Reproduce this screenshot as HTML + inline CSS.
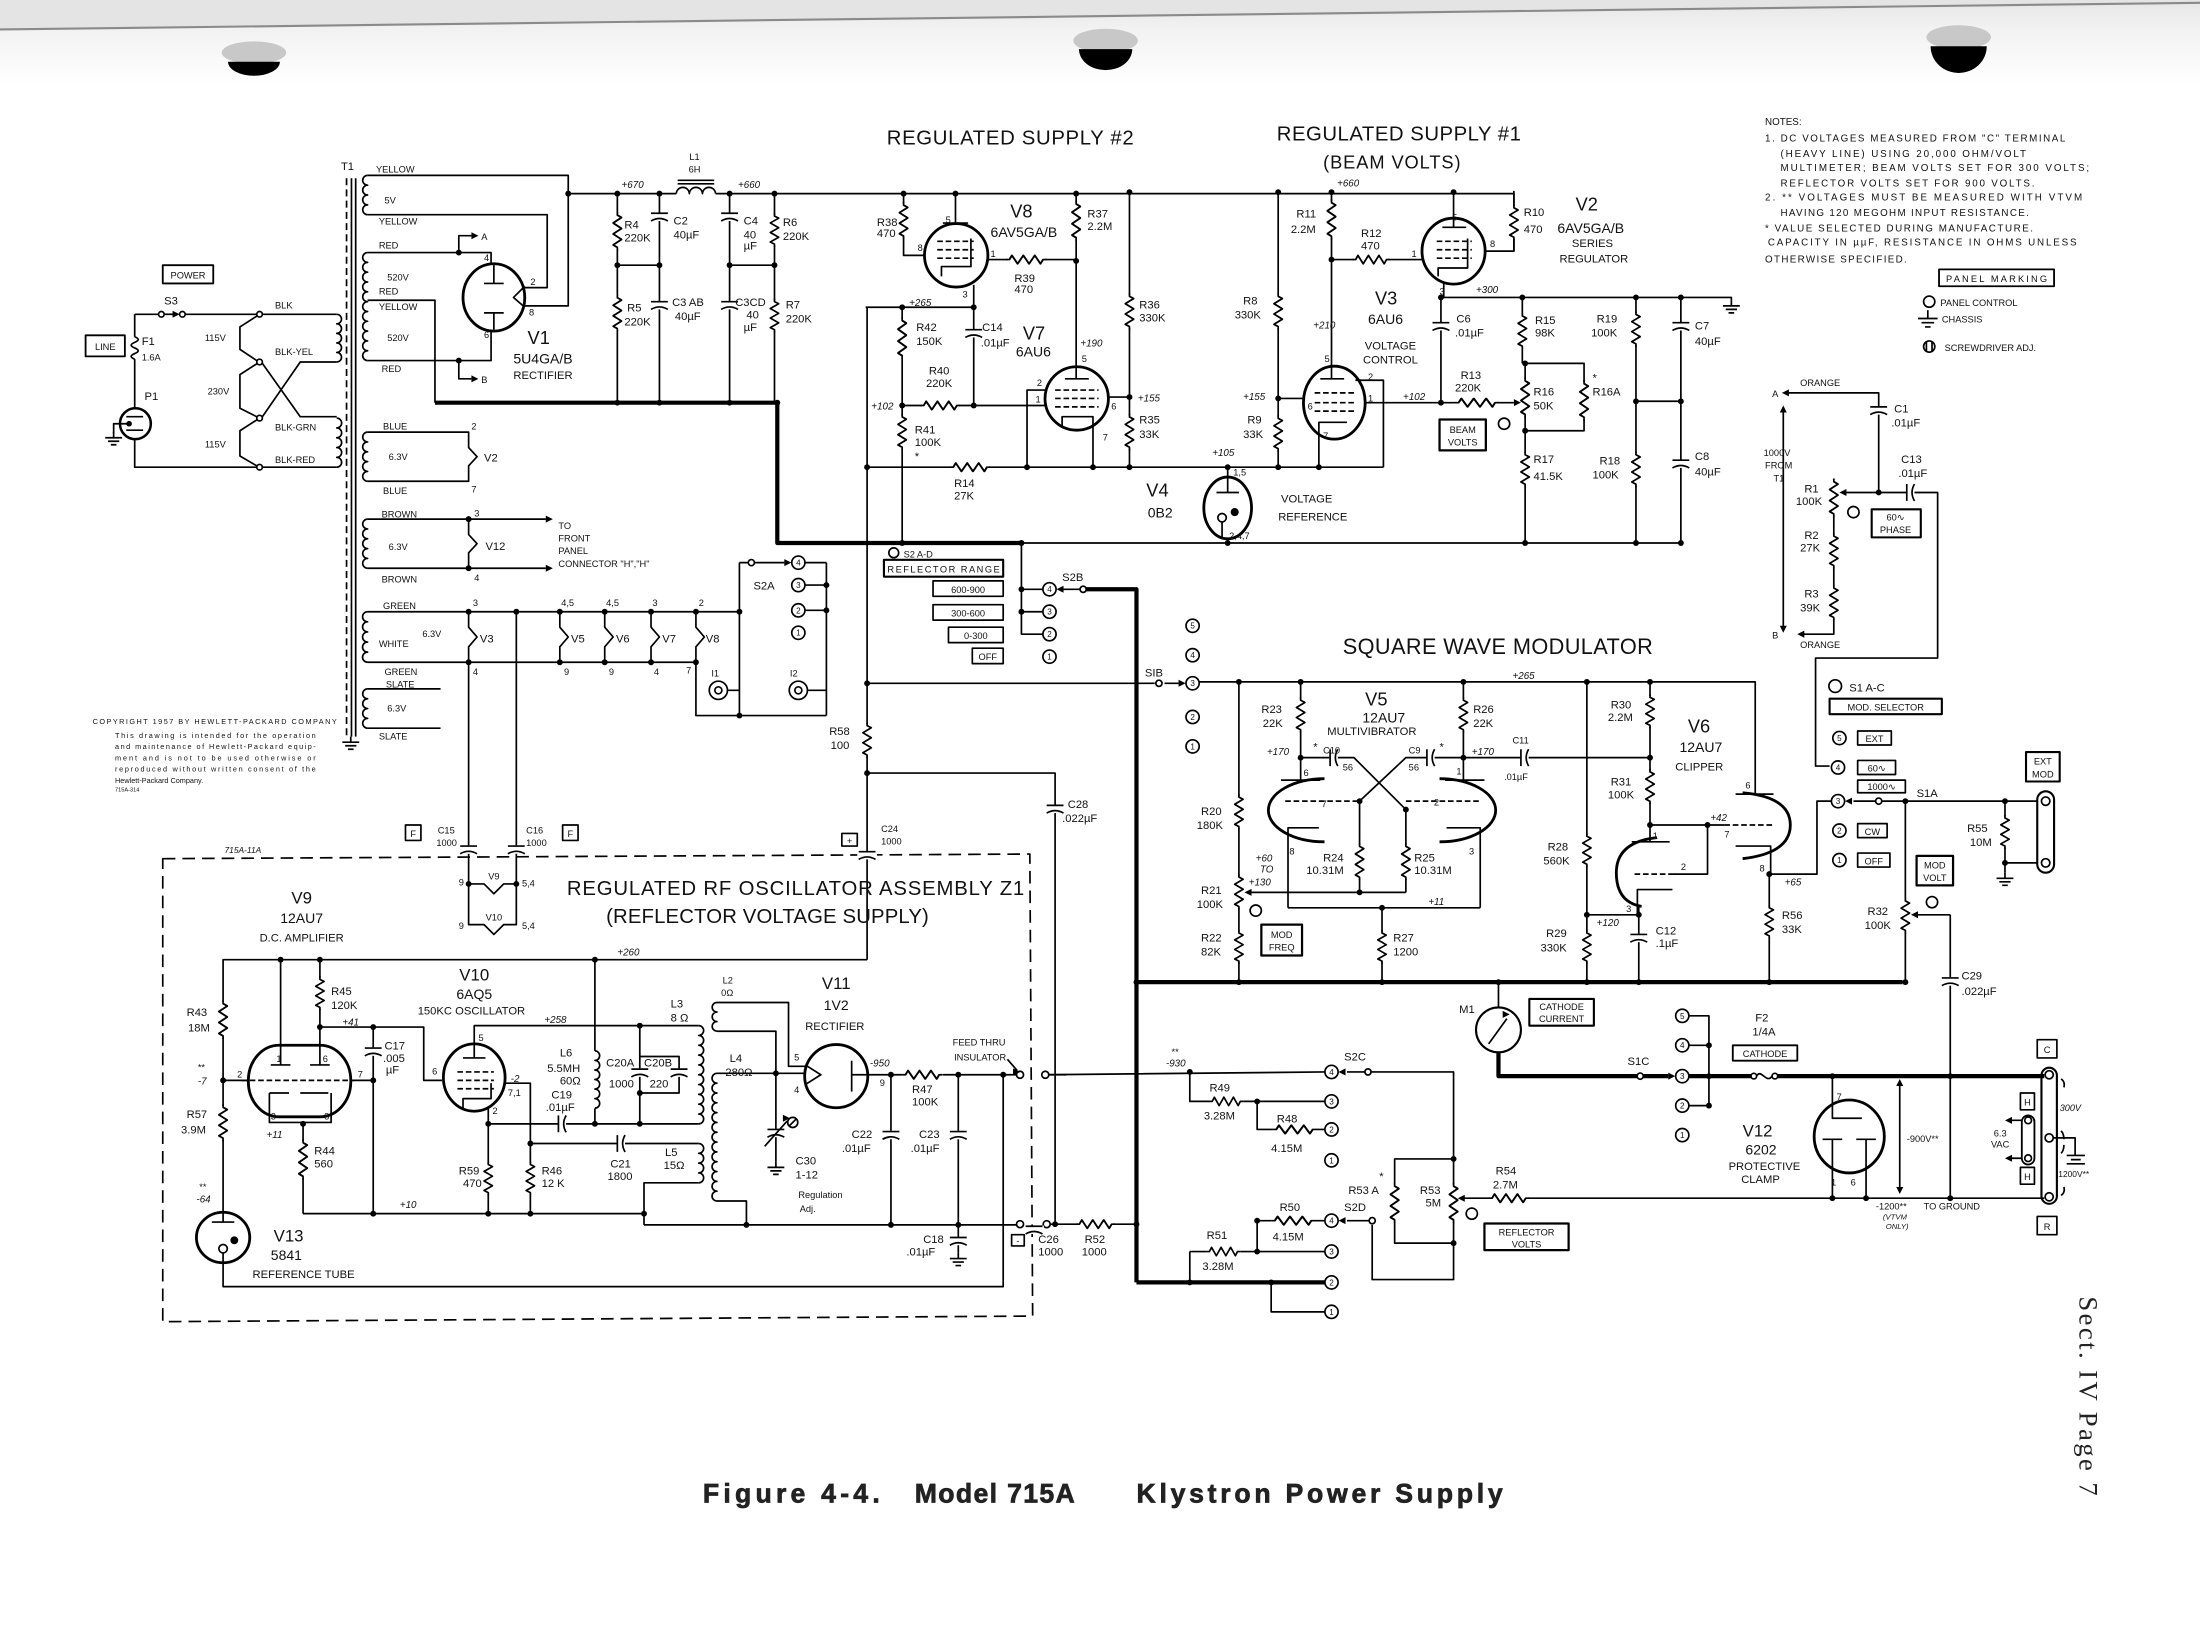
<!DOCTYPE html>
<html><head><meta charset="utf-8">
<style>
html,body{margin:0;padding:0;background:#fff;}
svg{display:block}
text{font-family:"Liberation Sans",sans-serif;fill:#111;stroke:none;font-size:8px}
.s{font-size:6.6px}
.xs{font-size:5.2px}
.i{font-style:italic;font-size:7px}
.v{font-size:13px}
.ty{font-size:10px}
.T{font-size:14.5px}
.m{text-anchor:middle}
.n{fill:#000;stroke:none}
.h{stroke-width:3}
.t2{stroke-width:2}
.d{stroke-dasharray:4 2}
.k{font-size:5.8px;text-anchor:middle}
.cap{font-family:"Liberation Sans",sans-serif;font-weight:bold;font-size:19px;fill:#222;stroke:#222;stroke-width:0.5}
</style></head><body>
<svg width="2200" height="1650" viewBox="0 0 1568 1176" xmlns="http://www.w3.org/2000/svg">
<defs>
<linearGradient id="gb" x1="0" y1="0" x2="0" y2="1"><stop offset="0" stop-color="#e6e6e6"/><stop offset="0.35" stop-color="#f2f2f2"/><stop offset="1" stop-color="#fff"/></linearGradient>
<g id="rv"><rect x="-4.5" y="1" width="9" height="22" fill="#fff" stroke="none"/><path d="M0,0v2l3,1.5l-6,3.4l6,3.4l-6,3.4l6,3.4l-6,3.4l3,1.5v2"/></g>
<g id="rh"><rect x="1" y="-4.5" width="22" height="9" fill="#fff" stroke="none"/><path d="M0,0h2l1.5,-3l3.4,6l3.4,-6l3.4,6l3.4,-6l3.4,6l1.5,-3h2"/></g>
<g id="cv"><rect x="-7" y="-2.5" width="14" height="6" fill="#fff" stroke="none"/><path d="M-6,-2h12M-6,3.5q6,-3.5 12,0"/></g>
<g id="ch"><rect x="-2.5" y="-7" width="6" height="14" fill="#fff" stroke="none"/><path d="M-2,-6v12M3.5,-6q-3.5,6 0,12"/></g>
<circle id="nd" r="2.1" fill="#000" stroke="none"/>
<path id="gnd" d="M0,0V4M-6,4H6M-4,6.5H4M-2,9H2"/>
<path id="al" d="M0,0L5,-2.5L5,2.5Z" fill="#000" stroke="none"/>
<path id="ar" d="M0,0L-5,-2.5L-5,2.5Z" fill="#000" stroke="none"/>
<path id="au" d="M0,0L-2.5,5L2.5,5Z" fill="#000" stroke="none"/>
<path id="ad" d="M0,0L-2.5,-5L2.5,-5Z" fill="#000" stroke="none"/>
<circle id="ct" r="4.7" fill="#fff"/>
</defs>

<rect width="1568" height="1176" fill="#fff"/>
<rect width="1568" height="60" fill="url(#gb)"/>
<path d="M0,0H1568V2L0,21Z" fill="#e4e4e4"/>
<path d="M0,21L1568,2" stroke="#8a8a8a" stroke-width="1.5" fill="none"/>
<ellipse cx="181" cy="37.5" rx="23" ry="8" fill="#c8c8c8"/><path d="M162.5,44A18.5,10 0 0 0 199.5,44Z" fill="#000"/>
<ellipse cx="788" cy="29" rx="23" ry="8.5" fill="#c8c8c8"/><path d="M769,35A19,15 0 0 0 807,35Z" fill="#000"/>
<ellipse cx="1396" cy="26.5" rx="23" ry="8.5" fill="#c8c8c8"/><path d="M1376,33A20,19 0 0 0 1416,33Z" fill="#000"/>

<g fill="none" stroke="#000" stroke-width="1.2" stroke-linejoin="round">
<!-- primary -->
<path d="M96,224H113M132,224H185M96,224V240M96,256V291M96,313V333H185M185,224H240M185,333H240M185,224L171,233V249L183,257M185,258L171,267V291L183,297M185,298L171,307V325L183,332M187,259L214,297H240M187,297L214,258H240"/>
<path d="M96,240q5,2 0,4q-5,2 0,4q5,2 0,4q-5,2 0,4"/>
<circle cx="115" cy="224" r="2" fill="#fff"/><circle cx="130" cy="224" r="2" fill="#fff"/><path d="M117,224H125"/>
<circle cx="185" cy="224" r="2" fill="#fff"/><circle cx="185" cy="258" r="2" fill="#fff"/><circle cx="185" cy="298" r="2" fill="#fff"/><circle cx="185" cy="333" r="2" fill="#fff"/>
<path d="M240,224a3.4,3.4 0 0 1 0,6.8a3.4,3.4 0 0 1 0,6.8a3.4,3.4 0 0 1 0,6.8a3.4,3.4 0 0 1 0,6.8a3.4,3.4 0 0 1 0,6.8"/>
<path d="M240,298a3.5,3.5 0 0 1 0,7a3.5,3.5 0 0 1 0,7a3.5,3.5 0 0 1 0,7a3.5,3.5 0 0 1 0,7a3.5,3.5 0 0 1 0,7"/>
<circle cx="96.5" cy="302" r="11" stroke-width="1.8"/><path d="M90,297H102M90,306.6H102M92,302H81V309"/>
<circle cx="92" cy="302" r="2" fill="#000" stroke="none"/>
<use href="#gnd" x="81" y="308"/>
<path d="M247,127V525" stroke-dasharray="5 3"/><path d="M250.5,127V525M253.5,127V525"/>
<use href="#gnd" x="250" y="525"/>
<!-- secondaries -->
<path d="M262,125a3.5,3.5 0 0 0 0,7a3.5,3.5 0 0 0 0,7a3.5,3.5 0 0 0 0,7a3.5,3.5 0 0 0 0,7"/>
<path d="M262,180a3.5,3.5 0 0 0 0,7a3.5,3.5 0 0 0 0,7a3.5,3.5 0 0 0 0,7a3.5,3.5 0 0 0 0,7a3.5,3.5 0 0 0 0,7a3.5,3.5 0 0 0 0,7a3.5,3.5 0 0 0 0,7a3.5,3.5 0 0 0 0,7a3.5,3.5 0 0 0 0,7a3.5,3.5 0 0 0 0,7a3.5,3.5 0 0 0 0,7"/>
<path d="M262,308a3.5,3.5 0 0 0 0,7a3.5,3.5 0 0 0 0,7a3.5,3.5 0 0 0 0,7a3.5,3.5 0 0 0 0,7a3.5,3.5 0 0 0 0,7"/>
<path d="M262,370a3.5,3.5 0 0 0 0,7a3.5,3.5 0 0 0 0,7a3.5,3.5 0 0 0 0,7a3.5,3.5 0 0 0 0,7a3.5,3.5 0 0 0 0,7"/>
<path d="M262,436a3.6,3.6 0 0 0 0,7.2a3.6,3.6 0 0 0 0,7.2a3.6,3.6 0 0 0 0,7.2a3.6,3.6 0 0 0 0,7.2a3.6,3.6 0 0 0 0,7.2"/>
<path d="M262,491a3.5,3.5 0 0 0 0,7a3.5,3.5 0 0 0 0,7a3.5,3.5 0 0 0 0,7a3.5,3.5 0 0 0 0,7"/>
<path d="M262,125H405V218H374M262,153H390V205H374M262,180H350V188M262,257H350V236M327,180V168H336M327,257V270H336M262,214H310V287"/>
<path d="M262,308H334V319L340,325.5L334,332V343H262M262,370H389M262,405H389M334,370V381L340,387.5L334,394V405"/>
<path d="M262,436H527M262,472H496M334,436V447L340,454L334,461V472M399,436V447L405,454L399,461V472M431,436V447L437,454L431,461V472M464,436V447L470,454L464,461V472M496,436V447L502,454L496,461V472"/>
<path d="M334,472V630M368,436V630M496,472V510H589M527,401V510M527,401H533M589,401V510M574,401H589M574,417H589M574,435H589M518,492H527M575,492H589M538,401H559"/>
<circle cx="535.5" cy="401" r="2.2" fill="#fff"/>
<circle cx="512" cy="492" r="6.5"/><circle cx="512" cy="492" r="2.5"/><circle cx="569" cy="492" r="6.5"/><circle cx="569" cy="492" r="2.5"/>
<path d="M262,491H314M262,519H314"/>
<ellipse cx="352" cy="212" rx="22" ry="24" class="t2"/>
<path d="M352,189V202M345,202H359M352,235V223M345,223H359M374,204L366,212L374,219"/>
<rect x="116" y="189" width="36" height="13" stroke-width="1.3"/><rect x="61" y="239" width="28" height="15" stroke-width="1.3"/>

<!-- top supply -->
<path d="M405,138H482M510,138H1079V179H1058M440,138V287M470,138V287M520,138V287M552,138V287M440,189H470M520,189H552"/>
<path d="M482,138a4.67,4.67 0 0 1 9.33,0a4.67,4.67 0 0 1 9.33,0a4.67,4.67 0 0 1 9.33,0M483,128.5H509M483,131H509"/>
<use href="#rv" transform="translate(440,151) scale(1,1.15)"/><use href="#rv" transform="translate(440,210) scale(1,1.1)"/>
<use href="#cv" x="470" y="154"/><use href="#cv" x="470" y="217"/><use href="#cv" x="520" y="154"/><use href="#cv" x="520" y="217"/>
<use href="#rv" x="552" y="152"/><use href="#rv" x="552" y="213"/>
<path class="h" d="M310,287H554V387H728"/>
<path d="M728,387H784"/>

<!-- reg supply 2 -->
<path d="M644,138V182H659M681,138V159M672,159H690M704,185H767M767,138V261M805,137V333M694,203V289M617,219H694M618,219V684M643,219V387M643,289H745M745,278H732V333M790,283H805M618,333H805"/>
<use href="#rv" transform="translate(644,144) scale(1,1.1)"/>
<ellipse cx="681.5" cy="182" rx="22.6" ry="22.6" class="t2"/>
<path class="d" d="M668,172H694M668,178H694M668,184H694"/><path d="M671,197V190H692V170"/>
<use href="#rh" transform="translate(717,185) scale(1.2,1)"/>
<use href="#rv" transform="translate(767,143) scale(1,1.2)"/>
<use href="#rv" transform="translate(805,209) scale(1,1.08)"/><use href="#rv" transform="translate(805,295) scale(1,1.08)"/>
<use href="#cv" x="694" y="237"/>
<use href="#rv" transform="translate(618,515) scale(1,1.05)"/>
<use href="#rv" transform="translate(643,226) scale(1,1.25)"/><use href="#rv" transform="translate(643,295) scale(1,1.08)"/>
<use href="#rh" transform="translate(656,289) scale(1.18,1)"/>
<ellipse cx="767.4" cy="284" rx="22.6" ry="22.6" class="t2"/>
<path d="M767,261V270M759,270H776M757,304V297H779V333"/><path class="d" d="M752,278H783M752,284H783M752,290H783"/>
<use href="#rh" transform="translate(677,333) scale(1.2,1)"/>

<!-- reg supply 1 -->
<path d="M911,137V333M949,137V261M949,185H1014M1036,137V162M1028,162H1045M1079,136V179M1027,212H1234V214M1027,212V287M1029,202V212"/>
<use href="#rv" transform="translate(911,209) scale(1,1.08)"/><use href="#rv" transform="translate(911,296) scale(1,1.08)"/>
<use href="#rv" transform="translate(949,142) scale(1,1.2)"/>
<use href="#rh" transform="translate(964,185) scale(1.1,1)"/>
<ellipse cx="1036" cy="179" rx="22.5" ry="23.5" class="t2"/>
<path class="d" d="M1024,172H1049M1024,178H1049M1024,184H1049"/><path d="M1025,197V191H1046V170"/>
<use href="#rv" transform="translate(1079,146) scale(1,1.05)"/>
<use href="#gnd" x="1234" y="214"/>
<use href="#cv" x="1027" y="232"/>
<ellipse cx="951" cy="287" rx="22" ry="26" class="t2"/>
<path d="M949,261V270M941,270H958M940,333V301H960M966,271H986V333M973,287H1027M929,284H911M1027,287H1079"/>
<path class="d" d="M937,280H966M937,287H966M937,293H966"/>
<use href="#rh" transform="translate(1037,287) scale(1.3,1)"/>
<path d="M1085,212V259M1087,259H1129V307H1087M1087,259V387M1166,212V387M1198,212V387M1166,286H1198M805,333H986"/>
<use href="#rv" transform="translate(1085,223) scale(1,1.08)"/>
<use href="#rv" transform="translate(1087,269) scale(1,1.2)"/><use href="#rv" transform="translate(1129,271) scale(1,1.2)"/>
<use href="#rv" transform="translate(1087,322) scale(1,1.05)"/>
<use href="#rv" transform="translate(1166,222) scale(1,1.05)"/><use href="#rv" transform="translate(1166,322) scale(1,1.05)"/>
<use href="#cv" x="1198" y="232"/><use href="#cv" x="1198" y="330"/>
<path d="M875,333V340M875,384V387M875,341V351M867,351H883M871,372V384M784,387H1198"/>
<ellipse cx="875" cy="362" rx="17" ry="22" class="t2"/>
<circle cx="871" cy="369" r="3"/><circle cx="880" cy="365" r="2.3" fill="#000"/>
<rect x="1026" y="299" width="33" height="22" stroke-width="1.6"/>
<circle cx="1072" cy="302" r="4"/>

<!-- notes symbols -->
<rect x="1382" y="192" width="82" height="12" stroke-width="1.3"/>
<circle cx="1375" cy="215" r="4"/>
<path d="M1374,221V227M1367,227H1381M1369.5,230H1378.5M1372,233H1376"/>
<circle cx="1375" cy="247" r="4"/><path d="M1373,243.5V250.5M1377,243.5V250.5"/>

<!-- right RC network -->
<path d="M1273,280H1339V351M1313,351H1381V469H1294V546H1304M1307,341V452H1285M1271,293V447"/>
<use href="#cv" x="1339" y="292"/><use href="#ch" x="1361" y="351"/>
<use href="#rv" transform="translate(1307,341) scale(1,1.15)"/><use href="#rv" transform="translate(1307,380) scale(1,1.05)"/><use href="#rv" transform="translate(1307,417) scale(1,1.05)"/>
<circle cx="1321" cy="365" r="4"/><rect x="1334" y="363" width="35" height="20" stroke-width="1.5"/>

<!-- reflector range / S2B -->
<circle cx="637" cy="394" r="3.5"/>
<rect x="630" y="399" width="85" height="12" stroke-width="1.5"/>
<rect x="665" y="414" width="50" height="11"/><rect x="665" y="431" width="50" height="11"/><rect x="676" y="447" width="39" height="11"/><rect x="693" y="462" width="22" height="11"/>
<path d="M728,387V452H743M728,420H743M728,436H743M770,420H758"/>
<circle cx="772" cy="420" r="2.2" fill="#fff"/>
<path class="h" d="M774,420H810V914"/>
<path d="M618,551H752V872"/><use href="#cv" x="752" y="576"/>

<!-- square wave modulator -->
<path d="M618,487H823M830,487H840M855,486H1251V566"/>
<circle cx="826" cy="487" r="2.2" fill="#fff"/>
<path d="M883,486V700M927,486V556M927,540H965L1002,577M1043,540H1002L969,571M1043,486V556M1043,540H1176"/>
<use href="#rv" transform="translate(883,566) scale(1,1.05)"/><use href="#rv" transform="translate(883,623) scale(1,1.05)"/><use href="#rv" x="883" y="663"/>
<use href="#rv" transform="translate(927,497) scale(1,1.05)"/><use href="#rv" transform="translate(1043,497) scale(1,1.05)"/>
<use href="#ch" x="950" y="540"/><use href="#ch" x="1019" y="540"/><use href="#ch" x="1086" y="540"/>
<path class="t2" d="M944,555A40,22.5 0 0 0 944,600M1026,555A40,22.5 0 0 1 1026,600"/>
<path d="M913,556H941M1030,556H1058M940,590H918V647M1031,590H1055V647M969,571V636M1002,577V636M889,636H1002M918,647H1055M985,647V700"/>
<path class="d" d="M916,571H969M1002,571H1055"/>
<use href="#rv" transform="translate(969,601) scale(1,1.1)"/><use href="#rv" transform="translate(1002,601) scale(1,1.1)"/><use href="#rv" x="985" y="663"/>
<rect x="899" y="659" width="29" height="22" stroke-width="1.6"/><circle cx="895" cy="649" r="4"/>
<path class="h" d="M810,700H1356"/>
<path d="M1131,486V700M1131,652H1168M1168,645V700M1176,486V600M1176,588H1229M1217,588V623H1192"/>
<use href="#rv" x="1131" y="594"/><use href="#rv" x="1131" y="663"/><use href="#cv" x="1168" y="668"/>
<use href="#rv" x="1176" y="495"/><use href="#rv" transform="translate(1176,548) scale(1,1.05)"/>
<path class="d" d="M1229,588H1264M1165,623H1192"/>
<path class="t2" d="M1181,597Q1152,600 1152,622Q1152,643 1170,646M1242,565Q1276,568 1276,588Q1276,608 1242,612"/>
<path d="M1163,600H1190M1192,634H1167V652M1237,566H1264M1237,603H1262V623M1261,623H1295V571H1305M1261,623V700"/>
<use href="#rv" x="1261" y="645"/>
<path d="M1337,571H1321M1341,571H1452M1358,571V700M1390,652H1367M1390,652V855M1429,571V622M1429,615H1452"/>
<circle cx="1339" cy="571" r="2.2" fill="#fff"/>
<use href="#rv" transform="translate(1358,640) scale(1,1.05)"/><use href="#cv" x="1390" y="699"/><use href="#rv" x="1429" y="581"/>
<use href="#gnd" x="1429" y="622"/>
<rect x="1452" y="564" width="12" height="58" rx="6" stroke-width="1.5"/><circle cx="1458" cy="571" r="3"/><circle cx="1458" cy="615" r="3"/>
<rect x="1444" y="536" width="24" height="21" stroke-width="1.5"/>
<rect x="1366" y="610" width="26" height="21" stroke-width="1.6"/><circle cx="1377" cy="643" r="4"/>
<circle cx="1308" cy="489" r="4.5"/>
<rect x="1304" y="498" width="80" height="11" stroke-width="1.5"/>
<rect x="1324" y="521" width="24" height="10"/><rect x="1324" y="542" width="27" height="10"/><rect x="1324" y="556" width="34" height="9"/><rect x="1324" y="587" width="21" height="10"/><rect x="1324" y="608" width="23" height="10"/>

<!-- M1 / S1C / V12 -->
<path d="M1068,700V718"/>
<circle cx="1068" cy="734" r="16" stroke-width="1.5"/><path d="M1061,744L1074,726"/>
<path class="h" d="M1068,750V767H1167M1171,767H1189M1204,767H1248M1267,767H1457"/>
<circle cx="1169" cy="767" r="2.2" fill="#fff"/>
<rect x="1090" y="712" width="46" height="19" stroke-width="1.5"/>
<path d="M1204,724H1218V788H1204M1204,745H1218"/>
<circle cx="1250" cy="767" r="2" fill="#fff"/><circle cx="1265" cy="767" r="2" fill="#fff"/><path d="M1252,767C1255,761 1259,773 1263,767"/>
<rect x="1235" y="745" width="46" height="11" stroke-width="1.3"/>
<ellipse cx="1318" cy="810" rx="25" ry="26" class="t2"/>
<path d="M1306,767V797H1327M1299,812H1313M1323,812H1337M1306,812V854M1330,812V854M1354,772V848"/>
<path d="M1040,854H1457"/>
<use href="#rh" transform="translate(1061,854) scale(1.2,1)"/>
<rect x="1455" y="761" width="11" height="97" rx="5.5" stroke-width="1.5"/>
<circle cx="1460.5" cy="766" r="2.9" fill="#fff"/><circle cx="1460.5" cy="811" r="2.9" fill="#fff"/><circle cx="1460.5" cy="853" r="2.9" fill="#fff"/>
<rect x="1452" y="741" width="14" height="13"/><rect x="1452" y="867" width="14" height="13"/>
<rect x="1441" y="795" width="9" height="35" rx="4.5" stroke-width="1.3"/><circle cx="1445.5" cy="798.5" r="2.4"/><circle cx="1445.5" cy="825.5" r="2.4"/>
<path d="M1441,798.5H1434M1441,825.5H1434"/>
<rect x="1440" y="779" width="10" height="12"/><rect x="1440" y="832" width="10" height="12"/>
<path d="M1463,811H1479V823M1473,823.5H1486M1476,826.5H1483M1473,829.5H1486M1469,769q3,2 2,6M1469,852q3,-2 2,-6M1471,812q0,-4 -2,-6M1471,816q0,4 -2,6"/>

<!-- S2C / S2D -->
<path d="M745,766L944,764M848,764V785H862M886,785H944M896,785V805H907M938,805H944M977,764H1036V826M973,764H960"/>
<use href="#rh" x="862" y="785"/><use href="#rh" transform="translate(907,805) scale(1.3,1)"/>
<circle cx="975" cy="764" r="2.2" fill="#fff"/>
<path d="M1036,826H994V886H1036M1036,826V886M1036,886V912H978V873M976,870H960"/>
<use href="#rv" transform="translate(994,843) scale(1,1.2)"/><use href="#rv" transform="translate(1036,843) scale(1,1.2)"/>
<circle cx="978" cy="870" r="2.2" fill="#fff"/><circle cx="1049" cy="865" r="4"/>
<rect x="1058" y="872" width="60" height="19" stroke-width="1.6"/>
<path d="M848,892V914M848,892H860M884,892H944M896,870V892M896,870H906M937,870H944M906,914V935H944"/>
<use href="#rh" x="860" y="892"/><use href="#rh" transform="translate(906,870) scale(1.3,1)"/>
<path class="h" d="M810,914H944"/>

<!-- dashed box / oscillator -->
<path d="M116,612L734,608.7L736,938L116,942Z" stroke-dasharray="9 5"/>
<rect x="289" y="588" width="11" height="11"/><rect x="401" y="588" width="11" height="11"/><rect x="600" y="594" width="11" height="9"/>
<use href="#cv" x="334" y="605"/><use href="#cv" x="368" y="605"/><use href="#cv" x="618" y="609"/>
<path d="M334,630H345L352,637L359,630H368M334,630V659H345L352,666L359,659H368V630"/>
<path d="M618,684H159V864"/>
<use href="#rv" transform="translate(159,713) scale(1,1.15)"/><use href="#rv" transform="translate(159,787) scale(1,1.1)"/>
<ellipse cx="159" cy="882" rx="19" ry="18" class="t2"/>
<path d="M151,871H167M159,864V871M159,893V917H715V766"/>
<circle cx="159" cy="890" r="3"/><circle cx="167" cy="884" r="2.2" fill="#000"/>
<rect x="177" y="745" width="73" height="51" rx="22" ry="25" class="t2"/>
<path d="M200,684V759M193,759H207M228,684V759M221,759H235M159,770H177M250,770H266"/>
<path class="d" d="M172,770H252"/>
<path d="M192,779H206M214,779H234M192,779V800H236V779M216,801V865"/>
<use href="#rv" x="228" y="696"/><use href="#rv" transform="translate(216,812) scale(1,1.2)"/>
<path d="M228,732H266M266,732V865M266,732H302V770H315"/>
<use href="#cv" x="266" y="749"/>
<ellipse cx="338" cy="768" rx="22" ry="24" class="t2"/>
<path d="M338,744V731H498M338,744V754M330,754H346M330,790V783H350V772M348,790V801H498M424,684V749M424,790V801M456,731V801M456,753H484V779H456"/>
<path class="d" d="M326,764H352M326,770H352M326,776H352"/>
<path d="M424,749a3.4,3.4 0 0 1 0,6.8a3.4,3.4 0 0 1 0,6.8a3.4,3.4 0 0 1 0,6.8a3.4,3.4 0 0 1 0,6.8a3.4,3.4 0 0 1 0,6.8a3.4,3.4 0 0 1 0,6.8"/>
<path d="M498,731a3.5,3.5 0 0 1 0,7a3.5,3.5 0 0 1 0,7a3.5,3.5 0 0 1 0,7a3.5,3.5 0 0 1 0,7a3.5,3.5 0 0 1 0,7a3.5,3.5 0 0 1 0,7a3.5,3.5 0 0 1 0,7a3.5,3.5 0 0 1 0,7a3.5,3.5 0 0 1 0,7a3.5,3.5 0 0 1 0,7"/>
<use href="#cv" x="456" y="764"/><use href="#cv" x="484" y="764"/><use href="#ch" x="400" y="801"/>
<path d="M360,772H378V865M378,815H498M498,843H459V873"/>
<path d="M498,815a3.5,3.5 0 0 1 0,7a3.5,3.5 0 0 1 0,7a3.5,3.5 0 0 1 0,7a3.5,3.5 0 0 1 0,7"/>
<use href="#rv" x="378" y="828"/><use href="#ch" x="442" y="815"/>
<path d="M348,801V865"/><use href="#rv" x="348" y="828"/>
<path d="M216,865H459M459,873H724.5M749,872.5H810"/>
<circle cx="727" cy="872.5" r="2.5" fill="#fff"/><circle cx="746" cy="872.5" r="2.5" fill="#fff"/><use href="#cv" x="737" y="876"/>
<use href="#rh" transform="translate(767,872.5) scale(1.15,1)"/>
<path d="M511,714.5H562V760H574M511,735H553V765M511,765H574M511,856H532V873M553,765V828"/>
<path d="M511,714.5a3.4,3.4 0 0 0 0,6.8a3.4,3.4 0 0 0 0,6.8a3.4,3.4 0 0 0 0,6.8"/>
<path d="M511,765a3.5,3.5 0 0 0 0,7a3.5,3.5 0 0 0 0,7a3.5,3.5 0 0 0 0,7a3.5,3.5 0 0 0 0,7a3.5,3.5 0 0 0 0,7a3.5,3.5 0 0 0 0,7a3.5,3.5 0 0 0 0,7a3.5,3.5 0 0 0 0,7a3.5,3.5 0 0 0 0,7a3.5,3.5 0 0 0 0,7a3.5,3.5 0 0 0 0,7a3.5,3.5 0 0 0 0,7a3.5,3.5 0 0 0 0,7"/>
<use href="#cv" x="553" y="807"/><path d="M545,817L561,799"/><use href="#gnd" x="553" y="828"/>
<circle cx="565" cy="800" r="3.6"/><path d="M562.5,802.5L567.5,797.5"/>
<ellipse cx="596" cy="767" rx="22.5" ry="22.5" class="t2"/>
<path d="M574,759L585,766L574,773M607,756V778M607,766H643M672,766H724.5M747.5,766H760"/>
<use href="#rh" transform="translate(643,766) scale(1.2,1)"/>
<circle cx="727" cy="766" r="2.5" fill="#fff"/><circle cx="745" cy="766" r="2.5" fill="#fff"/>
<path d="M635,766V873M683,766V893"/>
<use href="#cv" x="635" y="808.5"/><use href="#cv" x="683" y="808.5"/><use href="#cv" x="683" y="884"/><use href="#gnd" x="683" y="893"/>
<path d="M718,755L725,763"/>
<rect x="721" y="880" width="9" height="8"/>
</g>

<!-- arrowheads -->
<use href="#ar" x="128" y="224"/><use href="#ar" x="341" y="168"/><use href="#ar" x="341" y="270"/>
<use href="#ar" x="394" y="370"/><use href="#ar" x="394" y="405"/><use href="#ar" x="564" y="401"/>
<use href="#al" x="753" y="420"/><use href="#ar" x="845" y="487"/><use href="#al" x="1315" y="571"/>
<use href="#ar" x="1194" y="767"/><use href="#al" x="954" y="764"/><use href="#al" x="954" y="870"/>
<use href="#al" x="1311" y="351"/><use href="#al" x="1270" y="280"/><use href="#al" x="1281" y="452"/>
<use href="#au" x="1271" y="289"/><use href="#ad" x="1271" y="451"/><use href="#ar" x="1084" y="287"/>
<use href="#al" x="887" y="636"/><use href="#al" x="1362" y="652"/><use href="#al" x="1039" y="854"/>
<use href="#au" x="1354" y="769"/><use href="#ad" x="1354" y="851"/><use href="#al" x="1429" y="798.5"/><use href="#al" x="1429" y="825.5"/>
<use href="#ar" x="1076" y="723"/><use href="#ar" x="727" y="764"/><use href="#ar" x="563" y="797"/>

<!-- nodes -->
<g>
<use href="#nd" x="405" y="138"/><use href="#nd" x="327" y="180"/><use href="#nd" x="327" y="257"/><use href="#nd" x="334" y="370"/><use href="#nd" x="334" y="405"/>
<use href="#nd" x="334" y="436"/><use href="#nd" x="368" y="436"/><use href="#nd" x="399" y="436"/><use href="#nd" x="431" y="436"/><use href="#nd" x="464" y="436"/><use href="#nd" x="496" y="436"/><use href="#nd" x="527" y="436"/>
<use href="#nd" x="334" y="472"/><use href="#nd" x="399" y="472"/><use href="#nd" x="431" y="472"/><use href="#nd" x="464" y="472"/><use href="#nd" x="496" y="472"/>
<use href="#nd" x="527" y="510"/><use href="#nd" x="589" y="417"/><use href="#nd" x="589" y="435"/>
<use href="#nd" x="440" y="138"/><use href="#nd" x="470" y="138"/><use href="#nd" x="520" y="138"/><use href="#nd" x="552" y="138"/>
<use href="#nd" x="440" y="189"/><use href="#nd" x="470" y="189"/><use href="#nd" x="520" y="189"/><use href="#nd" x="552" y="189"/>
<use href="#nd" x="440" y="287"/><use href="#nd" x="470" y="287"/><use href="#nd" x="520" y="287"/><use href="#nd" x="554" y="287"/>
<use href="#nd" x="644" y="138"/><use href="#nd" x="681" y="138"/><use href="#nd" x="767" y="138"/><use href="#nd" x="805" y="137"/><use href="#nd" x="767" y="186"/>
<use href="#nd" x="643" y="219"/><use href="#nd" x="694" y="219"/><use href="#nd" x="643" y="289"/><use href="#nd" x="694" y="289"/><use href="#nd" x="805" y="283"/>
<use href="#nd" x="618" y="333"/><use href="#nd" x="732" y="333"/><use href="#nd" x="779" y="333"/><use href="#nd" x="805" y="333"/>
<use href="#nd" x="911" y="137"/><use href="#nd" x="949" y="137"/><use href="#nd" x="1036" y="137"/><use href="#nd" x="949" y="185"/><use href="#nd" x="911" y="284"/>
<use href="#nd" x="1027" y="212"/><use href="#nd" x="1085" y="212"/><use href="#nd" x="1166" y="212"/><use href="#nd" x="1198" y="212"/><use href="#nd" x="1027" y="287"/>
<use href="#nd" x="1087" y="259"/><use href="#nd" x="1087" y="307"/><use href="#nd" x="1166" y="286"/><use href="#nd" x="1198" y="286"/>
<use href="#nd" x="875" y="333"/><use href="#nd" x="911" y="333"/><use href="#nd" x="940" y="333"/>
<use href="#nd" x="875" y="387"/><use href="#nd" x="1087" y="387"/><use href="#nd" x="1166" y="387"/><use href="#nd" x="1198" y="387"/>
<use href="#nd" x="643" y="387"/><use href="#nd" x="728" y="387"/><use href="#nd" x="728" y="420"/><use href="#nd" x="728" y="436"/>
<use href="#nd" x="1339" y="351"/><use href="#nd" x="618" y="487"/><use href="#nd" x="618" y="551"/>
<use href="#nd" x="883" y="486"/><use href="#nd" x="927" y="486"/><use href="#nd" x="1043" y="486"/><use href="#nd" x="1131" y="486"/><use href="#nd" x="1176" y="486"/>
<use href="#nd" x="927" y="540"/><use href="#nd" x="1043" y="540"/><use href="#nd" x="1176" y="540"/><use href="#nd" x="969" y="571"/><use href="#nd" x="1002" y="577"/>
<use href="#nd" x="969" y="636"/><use href="#nd" x="985" y="647"/><use href="#nd" x="1176" y="588"/><use href="#nd" x="1217" y="588"/>
<use href="#nd" x="1131" y="652"/><use href="#nd" x="1168" y="652"/><use href="#nd" x="1261" y="623"/>
<use href="#nd" x="810" y="700"/><use href="#nd" x="883" y="700"/><use href="#nd" x="985" y="700"/><use href="#nd" x="1068" y="700"/><use href="#nd" x="1131" y="700"/><use href="#nd" x="1168" y="700"/><use href="#nd" x="1261" y="700"/><use href="#nd" x="1358" y="700"/>
<use href="#nd" x="1358" y="571"/><use href="#nd" x="1429" y="571"/><use href="#nd" x="1429" y="615"/>
<use href="#nd" x="1218" y="745"/><use href="#nd" x="1218" y="767"/><use href="#nd" x="1218" y="788"/>
<use href="#nd" x="1306" y="767"/><use href="#nd" x="1390" y="767"/><use href="#nd" x="1306" y="854"/><use href="#nd" x="1330" y="854"/><use href="#nd" x="1390" y="854"/>
<use href="#nd" x="848" y="764"/><use href="#nd" x="896" y="785"/><use href="#nd" x="1036" y="826"/><use href="#nd" x="1036" y="886"/>
<use href="#nd" x="896" y="870"/><use href="#nd" x="896" y="892"/><use href="#nd" x="848" y="914"/><use href="#nd" x="906" y="914"/>
<use href="#nd" x="810" y="872.5"/><use href="#nd" x="752" y="872.5"/>
<use href="#nd" x="334" y="630"/><use href="#nd" x="368" y="630"/><use href="#nd" x="200" y="684"/><use href="#nd" x="228" y="684"/><use href="#nd" x="424" y="684"/>
<use href="#nd" x="159" y="770"/><use href="#nd" x="228" y="732"/><use href="#nd" x="266" y="732"/><use href="#nd" x="266" y="770"/><use href="#nd" x="216" y="801"/>
<use href="#nd" x="456" y="731"/><use href="#nd" x="456" y="779"/><use href="#nd" x="348" y="801"/><use href="#nd" x="424" y="801"/><use href="#nd" x="456" y="801"/>
<use href="#nd" x="378" y="815"/><use href="#nd" x="266" y="865"/><use href="#nd" x="348" y="865"/><use href="#nd" x="378" y="865"/><use href="#nd" x="459" y="865"/>
<use href="#nd" x="553" y="765"/><use href="#nd" x="532" y="873"/><use href="#nd" x="635" y="873"/><use href="#nd" x="683" y="873"/>
<use href="#nd" x="635" y="766"/><use href="#nd" x="683" y="766"/><use href="#nd" x="715" y="766"/>
</g>

<!-- contacts -->
<g fill="#fff" stroke="#000" stroke-width="1.2">
<use href="#ct" x="569" y="401"/><use href="#ct" x="569" y="417"/><use href="#ct" x="569" y="435"/><use href="#ct" x="569" y="451"/>
<use href="#ct" x="748" y="420"/><use href="#ct" x="748" y="436"/><use href="#ct" x="748" y="452"/><use href="#ct" x="748" y="468"/>
<use href="#ct" x="850" y="446"/><use href="#ct" x="850" y="467"/><use href="#ct" x="850" y="487"/><use href="#ct" x="850" y="511"/><use href="#ct" x="850" y="532"/>
<use href="#ct" x="1311" y="526"/><use href="#ct" x="1310" y="547"/><use href="#ct" x="1310" y="571"/><use href="#ct" x="1311" y="592"/><use href="#ct" x="1311" y="613"/>
<use href="#ct" x="1199" y="724"/><use href="#ct" x="1199" y="745"/><use href="#ct" x="1199" y="767"/><use href="#ct" x="1199" y="788"/><use href="#ct" x="1199" y="809"/>
<use href="#ct" x="949" y="764"/><use href="#ct" x="949" y="785"/><use href="#ct" x="949" y="805"/><use href="#ct" x="949" y="827"/>
<use href="#ct" x="949" y="870"/><use href="#ct" x="949" y="892"/><use href="#ct" x="949" y="914"/><use href="#ct" x="949" y="935"/>
</g>
<g>
<text class="k" x="569" y="403.1">4</text><text class="k" x="569" y="419.1">3</text><text class="k" x="569" y="437.1">2</text><text class="k" x="569" y="453.1">1</text>
<text class="k" x="748" y="422.1">4</text><text class="k" x="748" y="438.1">3</text><text class="k" x="748" y="454.1">2</text><text class="k" x="748" y="470.1">1</text>
<text class="k" x="850" y="448.1">5</text><text class="k" x="850" y="469.1">4</text><text class="k" x="850" y="489.1">3</text><text class="k" x="850" y="513.1">2</text><text class="k" x="850" y="534.1">1</text>
<text class="k" x="1311" y="528.1">5</text><text class="k" x="1310" y="549.1">4</text><text class="k" x="1310" y="573.1">3</text><text class="k" x="1311" y="594.1">2</text><text class="k" x="1311" y="615.1">1</text>
<text class="k" x="1199" y="726.1">5</text><text class="k" x="1199" y="747.1">4</text><text class="k" x="1199" y="769.1">3</text><text class="k" x="1199" y="790.1">2</text><text class="k" x="1199" y="811.1">1</text>
<text class="k" x="949" y="766.1">4</text><text class="k" x="949" y="787.1">3</text><text class="k" x="949" y="807.1">2</text><text class="k" x="949" y="829.1">1</text>
<text class="k" x="949" y="872.1">4</text><text class="k" x="949" y="894.1">3</text><text class="k" x="949" y="916.1">2</text><text class="k" x="949" y="937.1">1</text>
</g>

<!-- TEXT -->
<g>
<text class="s m" x="134" y="198.5">POWER</text><text class="s m" x="75" y="249.5">LINE</text>
<text x="117" y="217">S3</text><text x="101" y="246">F1</text><text class="s" x="101" y="257">1.6A</text><text x="103" y="285">P1</text>
<text class="s" x="146" y="243">115V</text><text class="s" x="148" y="281">230V</text><text class="s" x="146" y="319">115V</text>
<text class="s" x="196" y="220">BLK</text><text class="s" x="196" y="253">BLK-YEL</text><text class="s" x="196" y="307">BLK-GRN</text><text class="s" x="196" y="330">BLK-RED</text>
<text x="243" y="121">T1</text>
<text class="s" x="268" y="123">YELLOW</text><text class="s" x="274" y="145">5V</text><text class="s" x="270" y="160">YELLOW</text><text class="s" x="270" y="177">RED</text>
<text class="s" x="276" y="200">520V</text><text class="s" x="270" y="210">RED</text><text class="s" x="270" y="221">YELLOW</text><text class="s" x="276" y="243">520V</text><text class="s" x="272" y="265">RED</text>
<text class="s" x="343" y="171">A</text><text class="s" x="343" y="273">B</text>
<text class="s" x="345" y="186">4</text><text class="s" x="378" y="203">2</text><text class="s" x="377" y="225">8</text><text class="s" x="345" y="241">6</text>
<text class="v" x="376" y="245">V1</text><text class="ty m" x="387" y="259">5U4GA/B</text><text class="m" x="387" y="270">RECTIFIER</text>
<text class="s" x="273" y="306">BLUE</text><text class="s" x="277" y="328">6.3V</text><text class="s" x="273" y="352">BLUE</text><text class="s" x="336" y="306">2</text><text class="s" x="336" y="351">7</text><text x="345" y="329">V2</text>
<text class="s" x="272" y="369">BROWN</text><text class="s" x="277" y="392">6.3V</text><text class="s" x="272" y="415">BROWN</text><text class="s" x="338" y="368">3</text><text class="s" x="338" y="414">4</text><text x="346" y="392">V12</text>
<text class="s" x="398" y="377">TO</text><text class="s" x="398" y="386">FRONT</text><text class="s" x="398" y="395">PANEL</text><text class="s" x="398" y="404">CONNECTOR "H","H"</text>
<text class="s" x="273" y="434">GREEN</text><text class="s" x="270" y="461">WHITE</text><text class="s" x="301" y="454">6.3V</text>
<text x="342" y="458">V3</text><text x="407" y="458">V5</text><text x="439" y="458">V6</text><text x="472" y="458">V7</text><text x="503" y="458">V8</text>
<text class="s" x="337" y="432">3</text><text class="s" x="400" y="432">4,5</text><text class="s" x="432" y="432">4,5</text><text class="s" x="465" y="432">3</text><text class="s" x="498" y="432">2</text>
<text class="s" x="337" y="481">4</text><text class="s" x="402" y="481">9</text><text class="s" x="434" y="481">9</text><text class="s" x="466" y="481">4</text><text class="s" x="489" y="480">7</text>
<text x="537" y="420">S2A</text><text class="s" x="507" y="482">I1</text><text class="s" x="563" y="482">I2</text>
<text class="s" x="274" y="481">GREEN</text><text class="s" x="275" y="490">SLATE</text><text class="s" x="276" y="507">6.3V</text><text class="s" x="270" y="527">SLATE</text>
<text class="xs" x="66" y="516" textLength="174">COPYRIGHT 1957 BY HEWLETT-PACKARD COMPANY</text>
<text class="xs" x="82" y="526" textLength="143">This drawing is intended for the operation</text>
<text class="xs" x="82" y="534" textLength="143">and maintenance of Hewlett-Packard equip-</text>
<text class="xs" x="82" y="542" textLength="143">ment and is not to be used otherwise or</text>
<text class="xs" x="82" y="550" textLength="143">reproduced without written consent of the</text>
<text class="xs" x="82" y="558">Hewlett-Packard Company.</text>
<text style="font-size:4px" x="82" y="564">715A-314</text>

<text class="i" x="443" y="134">+670</text><text class="s m" x="495" y="114">L1</text><text class="s m" x="495" y="123">6H</text><text class="i" x="526" y="134">+660</text>
<text x="445" y="163">R4</text><text x="445" y="172">220K</text><text x="480" y="160">C2</text><text x="480" y="170">40µF</text>
<text x="530" y="160">C4</text><text x="530" y="170">40</text><text x="530" y="178">µF</text><text x="558" y="161">R6</text><text x="558" y="171">220K</text>
<text x="447" y="222">R5</text><text x="445" y="232">220K</text><text x="479" y="218">C3 AB</text><text x="481" y="228">40µF</text>
<text x="524" y="218">C3CD</text><text x="532" y="227">40</text><text x="530" y="236">µF</text><text x="560" y="220">R7</text><text x="560" y="230">220K</text>

<text class="T" x="632" y="103" textLength="176">REGULATED SUPPLY #2</text>
<text x="625" y="161">R38</text><text x="625" y="169">470</text><text class="s" x="674" y="159">5</text><text class="s" x="654" y="179">8</text><text class="s" x="706" y="183">1</text><text class="s" x="686" y="212">3</text>
<text class="v" x="720" y="155">V8</text><text class="ty" x="706" y="169">6AV5GA/B</text>
<text x="775" y="155">R37</text><text x="775" y="164">2.2M</text><text x="723" y="201">R39</text><text x="723" y="209">470</text>
<text class="i" x="648" y="218">+265</text><text x="653" y="236">R42</text><text x="653" y="246">150K</text><text x="700" y="236">C14</text><text x="699" y="247">.01µF</text>
<text class="v" x="729" y="242">V7</text><text class="ty" x="724" y="254">6AU6</text><text class="i" x="770" y="247">+190</text><text class="s" x="771" y="258">5</text>
<text x="662" y="267">R40</text><text x="660" y="276">220K</text><text class="i" x="621" y="292">+102</text>
<text class="s" x="739" y="275">2</text><text class="s" x="738" y="287">1</text><text class="s" x="792" y="292">6</text><text class="s" x="786" y="314">7</text>
<text x="652" y="309">R41</text><text x="652" y="318">100K</text><text x="652" y="328">*</text><text x="680" y="347">R14</text><text x="680" y="356">27K</text>
<text x="812" y="220">R36</text><text x="812" y="229">330K</text><text class="i" x="811" y="286">+155</text><text x="812" y="302">R35</text><text x="812" y="312">33K</text>

<text class="T" x="910" y="100" textLength="174">REGULATED SUPPLY #1</text>
<text class="T" x="943" y="120" textLength="98" style="font-size:13px">(BEAM VOLTS)</text>
<text class="i" x="953" y="133">+660</text>
<text x="924" y="155">R11</text><text x="920" y="166">2.2M</text><text x="970" y="169">R12</text><text x="970" y="178">470</text>
<text class="s" x="1035" y="157">5</text><text class="s" x="1006" y="183">1</text><text class="s" x="1062" y="176">8</text><text class="s" x="1026" y="210">3</text>
<text x="1086" y="154">R10</text><text x="1086" y="166">470</text>
<text class="v" x="1123" y="150">V2</text><text class="ty" x="1110" y="166">6AV5GA/B</text><text class="m" x="1135" y="176">SERIES</text><text class="m" x="1136" y="187">REGULATOR</text>
<text class="i" x="1052" y="209">+300</text><text x="886" y="217">R8</text><text x="880" y="227">330K</text>
<text class="v" x="980" y="217">V3</text><text class="ty" x="975" y="231">6AU6</text><text class="m" x="991" y="249">VOLTAGE</text><text class="m" x="991" y="259">CONTROL</text>
<text class="i" x="936" y="234">+210</text><text class="s" x="944" y="258">5</text><text class="s" x="975" y="271">2</text><text class="s" x="975" y="286">1</text><text class="s" x="932" y="292">6</text><text class="s" x="943" y="313">7</text>
<text x="1038" y="230">C6</text><text x="1037" y="240">.01µF</text><text class="i" x="886" y="285">+155</text><text class="i" x="1000" y="285">+102</text>
<text x="889" y="302">R9</text><text x="886" y="312">33K</text><text x="1041" y="270">R13</text><text x="1037" y="279">220K</text>
<text x="1094" y="231">R15</text><text x="1094" y="240">98K</text><text x="1138" y="230">R19</text><text x="1134" y="240">100K</text>
<text x="1208" y="235">C7</text><text x="1208" y="246">40µF</text><text x="1135" y="272">*</text><text x="1135" y="282">R16A</text>
<text x="1093" y="282">R16</text><text x="1093" y="292">50K</text>
<text class="s m" x="1042.5" y="308.5">BEAM</text><text class="s m" x="1042.5" y="317.5">VOLTS</text>
<text x="1093" y="330">R17</text><text x="1093" y="342">41.5K</text><text x="1140" y="331">R18</text><text x="1135" y="341">100K</text>
<text x="1208" y="328">C8</text><text x="1208" y="339">40µF</text>
<text class="i" x="864" y="325">+105</text><text class="s" x="879" y="339">1,5</text><text class="s" x="876" y="384">2,4,7</text>
<text class="v" x="817" y="354">V4</text><text class="ty" x="818" y="369">0B2</text><text x="913" y="358">VOLTAGE</text><text x="911" y="371">REFERENCE</text>

<text style="font-size:7px" x="1258" y="89">NOTES:</text>
<text style="font-size:7px" x="1258" y="101" textLength="214">1. DC VOLTAGES MEASURED FROM "C" TERMINAL</text>
<text style="font-size:7px" x="1269" y="112" textLength="175">(HEAVY LINE) USING 20,000 OHM/VOLT</text>
<text style="font-size:7px" x="1269" y="122" textLength="220">MULTIMETER; BEAM VOLTS SET FOR 300 VOLTS;</text>
<text style="font-size:7px" x="1269" y="133" textLength="181">REFLECTOR VOLTS SET FOR 900 VOLTS.</text>
<text style="font-size:7px" x="1258" y="143" textLength="226">2. ** VOLTAGES MUST BE MEASURED WITH VTVM</text>
<text style="font-size:7px" x="1269" y="154" textLength="177">HAVING 120 MEGOHM INPUT RESISTANCE.</text>
<text style="font-size:7px" x="1258" y="165" textLength="191">* VALUE SELECTED DURING MANUFACTURE.</text>
<text style="font-size:7px" x="1260" y="175" textLength="220">CAPACITY IN µµF, RESISTANCE IN OHMS UNLESS</text>
<text style="font-size:7px" x="1258" y="187" textLength="101">OTHERWISE SPECIFIED.</text>
<text class="s m" x="1423" y="201" textLength="72">PANEL MARKING</text>
<text class="s" x="1383" y="218">PANEL CONTROL</text><text class="s" x="1384" y="230">CHASSIS</text><text class="s" x="1386" y="250">SCREWDRIVER ADJ.</text>

<text class="s" x="1283" y="275">ORANGE</text><text class="s" x="1263" y="283">A</text><text x="1350" y="294">C1</text><text x="1348" y="304">.01µF</text>
<text x="1355" y="330">C13</text><text x="1353" y="340">.01µF</text>
<text class="s" x="1257" y="325">1000V</text><text class="s" x="1258" y="334">FROM</text><text class="s" x="1264" y="343">T1</text>
<text x="1286" y="351">R1</text><text x="1280" y="360">100K</text>
<text class="s m" x="1351" y="371">60∿</text><text class="s m" x="1351" y="380">PHASE</text>
<text x="1286" y="384">R2</text><text x="1283" y="393">27K</text><text x="1286" y="426">R3</text><text x="1283" y="436">39K</text>
<text class="s" x="1263" y="455">B</text><text class="s" x="1283" y="462">ORANGE</text>

<text class="s" x="644" y="397.5">S2 A-D</text><text class="s m" x="672.5" y="408" textLength="80">REFLECTOR RANGE</text>
<text class="s m" x="690" y="422.5">600-900</text><text class="s m" x="690" y="439.5">300-600</text><text class="s m" x="695.5" y="455.5">0-300</text><text class="s m" x="704" y="470.5">OFF</text>
<text x="757" y="414">S2B</text>
<text x="591" y="524">R58</text><text x="592" y="534">100</text><text x="761" y="576">C28</text><text x="757" y="586">.022µF</text>

<text x="816" y="482">SIB</text>
<text class="T" x="957" y="466" textLength="221" style="font-size:15.5px">SQUARE WAVE MODULATOR</text>
<text class="i" x="1078" y="484">+265</text>
<text x="899" y="508">R23</text><text x="900" y="518">22K</text>
<text class="v" x="973" y="503">V5</text><text class="ty" x="971" y="515">12AU7</text><text x="946" y="524">MULTIVIBRATOR</text>
<text x="1050" y="508">R26</text><text x="1050" y="518">22K</text>
<text class="i" x="903" y="538">+170</text><text x="936" y="535">*</text><text class="s" x="943" y="537">C10</text><text class="s" x="957" y="549">56</text>
<text class="s" x="1004" y="537">C9</text><text class="s" x="1004" y="549">56</text><text x="1026" y="535">*</text><text class="i" x="1049" y="538">+170</text>
<text class="s" x="1078" y="530">C11</text><text class="s" x="1072" y="556">.01µF</text>
<text class="s" x="929" y="553">6</text><text class="s" x="1038" y="552">1</text><text class="s" x="942" y="575">7</text><text class="s" x="1022" y="574">2</text><text class="s" x="919" y="609">8</text><text class="s" x="1047" y="609">3</text>
<text x="943" y="614">R24</text><text x="931" y="623">10.31M</text><text x="1008" y="614">R25</text><text x="1008" y="623">10.31M</text><text class="i" x="1018" y="645">+11</text>
<text x="856" y="581">R20</text><text x="853" y="591">180K</text><text class="i" x="895" y="614">+60</text><text class="i" x="898" y="622">TO</text><text class="i" x="890" y="631">+130</text>
<text x="856" y="637">R21</text><text x="853" y="647">100K</text><text x="856" y="671">R22</text><text x="856" y="681">82K</text>
<text class="s m" x="913.5" y="668.5">MOD</text><text class="s m" x="913.5" y="677.5">FREQ</text>
<text x="993" y="671">R27</text><text x="993" y="681">1200</text>
<text x="1148" y="505">R30</text><text x="1146" y="514">2.2M</text>
<text class="v" x="1203" y="522">V6</text><text class="ty" x="1197" y="536">12AU7</text><text x="1194" y="549">CLIPPER</text>
<text x="1148" y="560">R31</text><text x="1146" y="569">100K</text><text class="i" x="1219" y="585">+42</text>
<text class="s" x="1229" y="597">7</text><text class="s" x="1178" y="598">1</text><text class="s" x="1244" y="562">6</text><text class="s" x="1198" y="620">2</text><text class="s" x="1254" y="621">8</text><text class="s" x="1159" y="650">3</text>
<text class="i" x="1272" y="631">+65</text>
<text x="1103" y="606">R28</text><text x="1100" y="616">560K</text><text class="i" x="1138" y="660">+120</text>
<text x="1102" y="668">R29</text><text x="1098" y="678">330K</text><text x="1180" y="666">C12</text><text x="1180" y="675">.1µF</text>
<text x="1270" y="655">R56</text><text x="1270" y="665">33K</text>
<text x="1318" y="493">S1 A-C</text><text class="s m" x="1344" y="506.5">MOD. SELECTOR</text>
<text class="s m" x="1336" y="529">EXT</text><text class="s m" x="1337.5" y="550">60∿</text><text class="s m" x="1341" y="563">1000∿</text>
<text class="s m" x="1334.5" y="595">CW</text><text class="s m" x="1335.5" y="616">OFF</text>
<text x="1366" y="568">S1A</text>
<text class="s m" x="1456" y="545">EXT</text><text class="s m" x="1456" y="554">MOD</text>
<text class="s m" x="1379" y="619">MOD</text><text class="s m" x="1379" y="628">VOLT</text>
<text x="1402" y="593">R55</text><text x="1404" y="603">10M</text>
<text x="1331" y="652">R32</text><text x="1329" y="662">100K</text>
<text x="1398" y="698">C29</text><text x="1398" y="709">.022µF</text>

<text x="1040" y="722">M1</text>
<text class="s m" x="1113" y="720">CATHODE</text><text class="s m" x="1113" y="728.5">CURRENT</text>
<text x="1160" y="759">S1C</text>
<text x="1251" y="728">F2</text><text x="1249" y="738">1/4A</text><text class="s m" x="1258" y="753.5">CATHODE</text>
<text class="v" x="1242" y="810" style="font-size:12px">V12</text><text class="ty" x="1244" y="823">6202</text><text x="1232" y="834">PROTECTIVE</text><text x="1241" y="843">CLAMP</text>
<text class="s" x="1309" y="784">7</text><text class="s" x="1305" y="845">1</text><text class="s" x="1319" y="845">6</text>
<text class="s" x="1359" y="814">-900V**</text>
<text class="s" x="1337" y="862">-1200**</text><text class="s" x="1371" y="862">TO GROUND</text>
<text class="i" x="1342" y="869" style="font-size:5.5px">(VTVM</text><text class="i" x="1344" y="876" style="font-size:5.5px">ONLY)</text>
<text class="s m" x="1459" y="750.5">C</text><text class="s m" x="1459" y="876.5">R</text>
<text class="s m" x="1445" y="788">H</text><text class="s m" x="1445" y="841">H</text>
<text class="s" x="1421" y="810">6.3</text><text class="s" x="1419" y="818">VAC</text>
<text class="i" x="1468" y="792" style="font-size:6.5px">300V</text><text class="s" x="1467" y="839" style="font-size:6px">1200V**</text>

<text class="s" x="835" y="752">**</text><text class="i" x="831" y="760">-930</text><text x="958" y="756">S2C</text>
<text x="862" y="778">R49</text><text x="858" y="798">3.28M</text><text x="910" y="800">R48</text><text x="906" y="821">4.15M</text>
<text x="983" y="841">*</text><text x="961" y="851">R53 A</text><text x="1012" y="851">R53</text><text x="1016" y="860">5M</text>
<text x="1066" y="837">R54</text><text x="1064" y="847">2.7M</text>
<text class="s m" x="1088" y="880.5">REFLECTOR</text><text class="s m" x="1088" y="889">VOLTS</text>
<text x="912" y="863">R50</text><text x="907" y="884">4.15M</text><text x="958" y="863">S2D</text>
<text x="860" y="883">R51</text><text x="857" y="905">3.28M</text>

<text class="i" x="160" y="608" style="font-size:6px">715A-11A</text>
<text class="s m" x="294.5" y="596.5">F</text><text class="s m" x="406.5" y="596.5">F</text><text class="s m" x="605.5" y="601.5">+</text>
<text class="s" x="312" y="594">C15</text><text class="s" x="311" y="603">1000</text><text class="s" x="375" y="594">C16</text><text class="s" x="375" y="603">1000</text>
<text class="s" x="628" y="593">C24</text><text class="s" x="628" y="602">1000</text>
<text class="s m" x="352" y="627">V9</text><text class="s m" x="352" y="656">V10</text>
<text class="s" x="327" y="631">9</text><text class="s" x="372" y="632">5,4</text><text class="s" x="327" y="662">9</text><text class="s" x="372" y="662">5,4</text>
<text class="T" x="404" y="638" textLength="326">REGULATED RF OSCILLATOR ASSEMBLY Z1</text>
<text class="T" x="432" y="658" textLength="230">(REFLECTOR VOLTAGE SUPPLY)</text>
<text class="m" x="215" y="644" style="font-size:12px">V9</text><text class="ty m" x="215" y="658">12AU7</text><text class="m" x="215" y="671">D.C. AMPLIFIER</text>
<text class="i" x="440" y="681">+260</text>
<text x="133" y="724">R43</text><text x="134" y="735">18M</text>
<text class="s" x="141" y="763">**</text><text class="i" x="141" y="773">-7</text>
<text class="s" x="169" y="768">2</text><text class="s" x="255" y="768">7</text><text class="s" x="197" y="757">1</text><text class="s" x="230" y="757">6</text><text class="s" x="193" y="798">3</text><text class="s" x="231" y="798">8</text>
<text class="i" x="190" y="811">+11</text>
<text x="133" y="797">R57</text><text x="129" y="808">3.9M</text>
<text class="s" x="142" y="848">**</text><text class="i" x="140" y="857">-64</text>
<text x="236" y="709">R45</text><text x="236" y="719">120K</text><text class="i" x="244" y="731">+41</text>
<text x="274" y="748">C17</text><text x="273" y="757">.005</text><text x="275" y="765">µF</text>
<text x="224" y="823">R44</text><text x="224" y="832">560</text>
<text class="m" x="338" y="699" style="font-size:12px">V10</text><text class="ty m" x="338" y="712">6AQ5</text><text class="m" x="336" y="723">150KC OSCILLATOR</text>
<text class="i" x="388" y="729">+258</text><text class="s" x="341" y="742">5</text><text class="s" x="308" y="766">6</text><text class="i" x="364" y="771">-2</text><text class="s" x="362" y="781">7,1</text><text class="s" x="351" y="794">2</text>
<text x="399" y="753">L6</text><text x="390" y="764">5.5MH</text><text x="399" y="773">60Ω</text>
<text x="432" y="760">C20A</text><text x="434" y="775">1000</text><text x="459" y="760">C20B</text><text x="463" y="775">220</text>
<text x="478" y="718">L3</text><text x="478" y="728">8 Ω</text>
<text x="393" y="783">C19</text><text x="389" y="792">.01µF</text>
<text x="435" y="832">C21</text><text x="433" y="841">1800</text><text x="474" y="824">L5</text><text x="473" y="833">15Ω</text>
<text x="327" y="837">R59</text><text x="330" y="846">470</text><text x="386" y="837">R46</text><text x="386" y="846">12 K</text>
<text class="i" x="285" y="861">+10</text>
<text style="font-size:12px" x="195" y="885">V13</text><text class="ty" x="193" y="898">5841</text><text x="180" y="911">REFERENCE TUBE</text>
<text class="s" x="515" y="701">L2</text><text class="s" x="514" y="710">0Ω</text>
<text class="m" x="596" y="705" style="font-size:12px">V11</text><text class="ty m" x="596" y="720">1V2</text><text class="m" x="595" y="734">RECTIFIER</text>
<text x="520" y="757">L4</text><text x="517" y="767">280Ω</text>
<text class="s" x="566" y="756">5</text><text class="s" x="566" y="779">4</text><text class="s" x="627" y="774">9</text><text class="i" x="620" y="760">-950</text>
<text x="650" y="779">R47</text><text x="650" y="788">100K</text>
<text class="s" x="679" y="745">FEED THRU</text><text class="s" x="680" y="756">INSULATOR</text>
<text x="567" y="830">C30</text><text x="567" y="840">1-12</text><text class="s" x="569" y="854">Regulation</text><text class="s" x="570" y="864">Adj.</text>
<text x="607" y="811">C22</text><text x="600" y="821">.01µF</text><text x="655" y="811">C23</text><text x="649" y="821">.01µF</text>
<text x="658" y="886">C18</text><text x="646" y="895">.01µF</text>
<text class="s m" x="725.5" y="886.5">-</text>
<text x="740" y="886">C26</text><text x="740" y="895">1000</text><text x="773" y="886">R52</text><text x="771" y="895">1000</text>

<text class="cap" x="501" y="1071" textLength="126">Figure 4-4.</text>
<text class="cap" x="652" y="1071" textLength="114">Model 715A</text>
<text class="cap" x="810" y="1071" textLength="261">Klystron Power Supply</text>
<text transform="translate(1482,924) rotate(90)" style="font-family:'Liberation Serif',serif;font-size:19px;fill:#222" textLength="142">Sect. IV Page 7</text>
</g>
</svg>
</body></html>
